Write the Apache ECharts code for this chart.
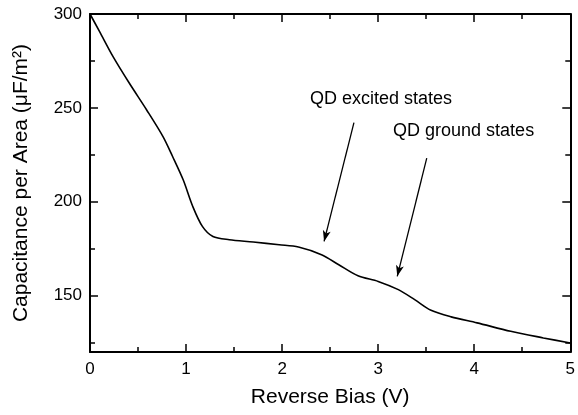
<!DOCTYPE html>
<html>
<head>
<meta charset="utf-8">
<script src="https://cdn.jsdelivr.net/npm/echarts@6/dist/echarts.min.js"></script>
<style>html,body{margin:0;padding:0;background:#fff;}#c{width:578px;height:415px;}</style>
</head>
<body>
<div id="c"></div>
<script>
const biasV = [0, 0.1, 0.24, 0.41, 0.59, 0.76, 0.86, 0.97, 1.07, 1.17, 1.28, 1.45, 1.7, 1.97, 2.17, 2.41, 2.59, 2.79, 3.0, 3.21, 3.38, 3.55, 3.76, 4.03, 4.38, 4.72, 5.0];
const capacitance = [300, 290.6, 277.3, 263.1, 248.9, 234.7, 224.1, 211.7, 197.5, 186.9, 181.5, 179.8, 178.6, 177.1, 175.9, 171.8, 166.5, 160.6, 157.6, 153.2, 147.9, 142.2, 138.7, 135.5, 131.0, 127.5, 124.8];
const yMajorTicks = [150, 200, 250, 300];
const yMinorTicks = [125, 175, 225, 275];
const annExcited = {text: 'QD excited states', label: [2.29, 254.5], from: [2.748, 242.2], to: [2.437, 178.9]};
const annGround = {text: 'QD ground states', label: [3.155, 237.8], from: [3.506, 223.2], to: [3.199, 160.3]};

const FONT = '"Liberation Sans", Arial, sans-serif';
const BLACK = '#000';
const chart = echarts.init(document.getElementById('c'), null, {renderer: 'canvas'});

function yAx(pos, ticks, len, withLine, withLabels) {
  return {
    type: 'value', position: pos, min: 120, max: 300,
    axisLine: {show: withLine, lineStyle: {color: BLACK, width: 2}},
    axisTick: {show: true, inside: true, length: len, customValues: ticks, lineStyle: {color: BLACK, width: 1.5}},
    axisLabel: withLabels ? {show: true, customValues: yMajorTicks, color: BLACK, fontSize: 17, fontFamily: FONT, margin: 8} : {show: false},
    splitLine: {show: false},
    name: withLabels ? 'Capacitance per Area (μF/m²)' : '',
    nameLocation: 'middle', nameGap: 58,
    nameTextStyle: {color: BLACK, fontSize: 21, fontFamily: FONT}
  };
}
function xAx(pos, withLabels) {
  return {
    type: 'value', position: pos, min: 0, max: 5, interval: 1,
    axisLine: {show: true, lineStyle: {color: BLACK, width: 2}},
    axisTick: {show: true, inside: true, length: 8, lineStyle: {color: BLACK, width: 1.5}},
    minorTick: {show: true, splitNumber: 2, length: 5, lineStyle: {color: BLACK, width: 1.5}},
    axisLabel: withLabels ? {show: true, color: BLACK, fontSize: 17, fontFamily: FONT, margin: 9} : {show: false},
    splitLine: {show: false}, minorSplitLine: {show: false},
    name: withLabels ? 'Reverse Bias (V)' : '',
    nameLocation: 'middle', nameGap: 35,
    nameTextStyle: {color: BLACK, fontSize: 21, fontFamily: FONT}
  };
}
function ann(a) {
  return [
    {coord: a.from, symbol: 'none'},
    {coord: a.to, symbol: 'arrow', symbolSize: [6, 11]}
  ];
}
chart.setOption({
  animation: false,
  backgroundColor: '#fff',
  grid: {left: 90, right: 4, top: 14, bottom: 63, containLabel: false},
  xAxis: [xAx('bottom', true), xAx('top', false)],
  yAxis: [yAx('left', yMajorTicks, 8, true, true), yAx('left', yMinorTicks, 5, false, false),
          yAx('right', yMajorTicks, 8, true, false), yAx('right', yMinorTicks, 5, false, false)],
  series: [{
    type: 'line', xAxisIndex: 0, yAxisIndex: 0,
    data: biasV.map((v, i) => [v, capacitance[i]]),
    smooth: 0.3, showSymbol: false, symbol: 'none',
    lineStyle: {color: BLACK, width: 1.6},
    markLine: {
      silent: true, symbol: ['none', 'arrow'],
      lineStyle: {color: BLACK, width: 1.3, type: 'solid'},
      label: {show: false},
      data: [ann(annExcited), ann(annGround)]
    },
    markPoint: {
      silent: true, symbol: 'circle', symbolSize: 0,
      label: {show: true, position: 'right', distance: 0, color: BLACK, fontSize: 18, fontFamily: FONT, formatter: p => p.name},
      data: [
        {name: annExcited.text, coord: annExcited.label},
        {name: annGround.text, coord: annGround.label}
      ]
    }
  }]
});
</script>
</body>
</html>
